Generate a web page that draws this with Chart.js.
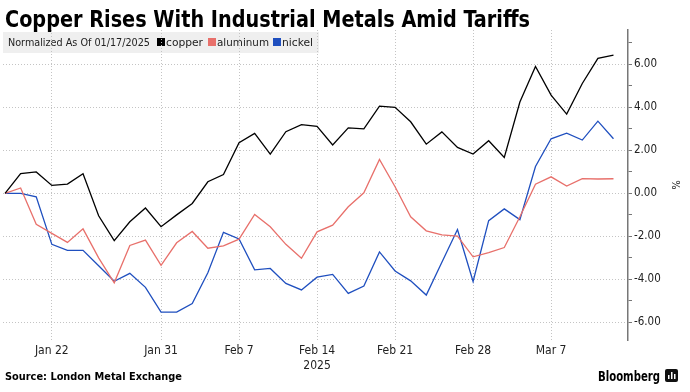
<!DOCTYPE html>
<html>
<head>
<meta charset="utf-8">
<script src="https://cdn.jsdelivr.net/npm/chart.js@4.4.1/dist/chart.umd.min.js"></script>
<style>
  html, body { margin: 0; padding: 0; background: #fff; }
  #wrap { width: 690px; height: 392px; position: relative; }
</style>
</head>
<body>
<div id="wrap"><canvas id="metals"></canvas></div>
<script>
// LME trading days, normalized to 01/17/2025
const dates = ['Jan 17',
  'Jan 20', 'Jan 21', 'Jan 22', 'Jan 23', 'Jan 24',
  'Jan 27', 'Jan 28', 'Jan 29', 'Jan 30', 'Jan 31',
  'Feb 3', 'Feb 4', 'Feb 5', 'Feb 6', 'Feb 7',
  'Feb 10', 'Feb 11', 'Feb 12', 'Feb 13', 'Feb 14',
  'Feb 17', 'Feb 18', 'Feb 19', 'Feb 20', 'Feb 21',
  'Feb 24', 'Feb 25', 'Feb 26', 'Feb 27', 'Feb 28',
  'Mar 3', 'Mar 4', 'Mar 5', 'Mar 6', 'Mar 7',
  'Mar 10', 'Mar 11', 'Mar 12', 'Mar 13'];

const copper = [0, 0.92, 1.0, 0.37, 0.43, 0.91, -1.04, -2.2, -1.32, -0.68,
  -1.55, -1.0, -0.47, 0.54, 0.88, 2.36, 2.79, 1.83, 2.87, 3.2,
  3.12, 2.25, 3.05, 3.0, 4.06, 4.0, 3.33, 2.29, 2.86, 2.14,
  1.83, 2.45, 1.67, 4.25, 5.9, 4.57, 3.69, 5.11, 6.28, 6.43];

const aluminum = [0, 0.25, -1.44, -1.86, -2.28, -1.65, -3.0, -4.16, -2.42, -2.17,
  -3.35, -2.3, -1.77, -2.55, -2.44, -2.13, -0.98, -1.55, -2.37, -3.02,
  -1.79, -1.48, -0.62, 0.03, 1.58, 0.31, -1.09, -1.74, -1.93, -1.99,
  -2.95, -2.76, -2.52, -1.09, 0.43, 0.77, 0.34, 0.69, 0.67, 0.68];

const nickel = [0, 0.0, -0.16, -2.37, -2.65, -2.65, -3.37, -4.09, -3.72, -4.37,
  -5.52, -5.52, -5.12, -3.69, -1.81, -2.12, -3.56, -3.49, -4.19, -4.49,
  -3.9, -3.77, -4.65, -4.31, -2.72, -3.61, -4.07, -4.73, -3.2, -1.68,
  -4.1, -1.27, -0.72, -1.22, 1.25, 2.54, 2.8, 2.48, 3.36, 2.54];

const tickLabels = ['Jan 22', 'Jan 31', 'Feb 7', 'Feb 14', 'Feb 21', 'Feb 28', 'Mar 7'];
const yTicks = [-6, -5, -4, -3, -2, -1, 0, 1, 2, 3, 4, 5, 6, 7];

const colors = { copper: '#000000', aluminum: '#e8706b', nickel: '#1f4fbf' };
const condensed = "'DejaVu Sans Condensed', 'DejaVu Sans', sans-serif";
const gridGrey = '#c4c4c4';

function pts(arr) {
  return arr.map((v, i) => ({ x: i, y: v }));
}

// squeeze text horizontally to a given width
function fitText(c, text, x, y, width) {
  const w = c.measureText(text).width;
  c.save();
  c.translate(x, y);
  c.scale(width / w, 1);
  c.fillText(text, 0, 0);
  c.restore();
}

const decor = {
  id: 'decor',
  beforeDraw(chart) {
    const c = chart.ctx;
    c.save();
    c.fillStyle = '#efefef';
    c.fillRect(3, 32, 316, 21);
    c.textBaseline = 'alphabetic';
    c.fillStyle = '#222';
    c.font = '10.5px ' + condensed;
    fitText(c, 'Normalized As Of 01/17/2025', 8, 46, 142);
    const items = [['copper', 157, 37], ['aluminum', 208, 52], ['nickel', 273, 31]];
    items.forEach(([name, x, w]) => {
      c.fillStyle = colors[name];
      c.fillRect(x, 38, 8, 8);
      c.fillStyle = '#222';
      fitText(c, name, x + 9, 46, w);
    });
    c.restore();
  },
  afterDraw(chart) {
    const c = chart.ctx;
    c.save();
    c.fillStyle = '#000';
    c.font = 'bold 23px ' + condensed;
    fitText(c, 'Copper Rises With Industrial Metals Amid Tariffs', 5, 27, 525);

    c.font = 'bold 10.5px ' + condensed;
    fitText(c, 'Source: London Metal Exchange', 5, 380, 177);

    c.font = 'bold 14px ' + condensed;
    fitText(c, 'Bloomberg', 598, 381, 62);
    // little logo
    c.fillStyle = '#111';
    c.beginPath();
    c.roundRect(665, 369, 13, 13, 2);
    c.fill();
    c.fillStyle = '#fff';
    c.fillRect(668, 375, 1.5, 4);
    c.fillRect(671, 372, 1.5, 7);
    c.fillRect(674, 374, 1.5, 5);

    c.fillStyle = '#222';
    c.font = '11px ' + condensed;
    c.translate(672, 185);
    c.rotate(Math.PI / 2);
    c.textAlign = 'center';
    c.fillText('%', 0, 0);
    c.restore();
  }
};

function line(label, data) {
  return {
    label: label,
    data: pts(data),
    borderColor: colors[label],
    backgroundColor: colors[label],
    borderWidth: 1.3,
    pointRadius: 0,
    tension: 0
  };
}

new Chart(document.getElementById('metals'), {
  type: 'line',
  data: {
    datasets: [line('copper', copper), line('aluminum', aluminum), line('nickel', nickel)]
  },
  options: {
    responsive: true,
    maintainAspectRatio: false,
    animation: false,
    layout: { padding: { top: 30, left: 3, right: 0, bottom: 0 } },
    plugins: { legend: { display: false }, tooltip: { enabled: false } },
    scales: {
      x: {
        type: 'linear',
        min: -0.13,
        max: 39.93,
        afterBuildTicks: (s) => { s.ticks = tickLabels.map(t => ({ value: dates.indexOf(t) })); },
        afterFit: (s) => { s.height = 52; },
        border: { display: false, dash: [1, 2] },
        grid: { color: gridGrey, lineWidth: 1, drawTicks: false },
        ticks: {
          padding: 4,
          maxRotation: 0,
          autoSkip: false,
          color: '#222',
          font: { family: condensed, size: 12 },
          callback: (v) => {
            const t = dates[v];
            return t === 'Feb 14' ? [t, '2025'] : t;
          }
        }
      },
      y: {
        position: 'right',
        min: -6.82,
        max: 7.6,
        afterBuildTicks: (s) => { s.ticks = yTicks.map(v => ({ value: v })); },
        afterFit: (s) => { s.width = 62; },
        border: { display: true, color: '#777', width: 1.5, dash: [1, 2] },
        grid: {
          color: (ctx) => (ctx.tick && ctx.tick.value % 2 === 0) ? gridGrey : 'rgba(0,0,0,0)',
          lineWidth: 1,
          tickColor: '#777',
          tickBorderDash: [],
          tickLength: 4,
          drawTicks: true
        },
        ticks: {
          padding: 2,
          color: '#222',
          font: { family: condensed, size: 11.5 },
          callback: (v) => v % 2 === 0 ? v.toFixed(2) : ''
        }
      }
    }
  },
  plugins: [decor]
});
</script>
</body>
</html>
